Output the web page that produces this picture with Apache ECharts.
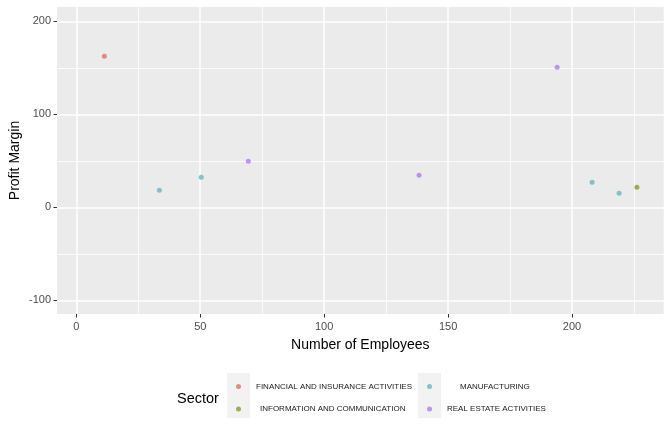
<!DOCTYPE html>
<html>
<head>
<meta charset="utf-8">
<script src="https://cdn.jsdelivr.net/npm/echarts@6/dist/echarts.min.js"></script>
<style>html,body{margin:0;padding:0;background:#fff}#c{width:672px;height:434px}</style>
</head>
<body>
<div id="c"></div>
<script>
// ---- data ----
const sectors = ["FINANCIAL AND INSURANCE ACTIVITIES", "INFORMATION AND COMMUNICATION", "MANUFACTURING", "REAL ESTATE ACTIVITIES"];
const colors = ["#D9736A", "#82A02A", "#66B6BF", "#AD7CF5"];
const financeEmployees = [11.3];
const financeMargin = [162.4];
const infoEmployees = [226.2];
const infoMargin = [21.5];
const manufEmployees = [33.5, 50.4, 208.1, 219.0];
const manufMargin = [18.3, 32.3, 26.9, 15.1];
const realEstateEmployees = [69.4, 138.3, 194.0];
const realEstateMargin = [49.5, 34.4, 150.5];
const xTicks = [0, 50, 100, 150, 200];
const xMinor = [25, 75, 125, 175, 225];
const yTicks = [-100, 0, 100, 200];
const yMinor = [-50, 50, 150];

const zip = (a, b) => a.map((v, i) => [v, b[i]]);
const seriesData = [
  zip(financeEmployees, financeMargin),
  zip(infoEmployees, infoMargin),
  zip(manufEmployees, manufMargin),
  zip(realEstateEmployees, realEstateMargin)
];

const FONT = "Liberation Sans, Arial, sans-serif";
const xMin = -7.8, xMax = 237, yMin = -114.7, yMax = 215.4;

const chart = echarts.init(document.getElementById('c'), null, {renderer: 'canvas'});

const hiddenParts = {
  axisLine: {show: false, onZero: false},
  axisLabel: {show: false}
};

const option = {
  backgroundColor: '#fff',
  animation: false,
  grid: {left: 57, right: 8.3, top: 7, bottom: 120, show: true, backgroundColor: '#EBEBEB', borderWidth: 0,
         containLabel: false, outerBoundsMode: 'none'},
  xAxis: [
    {
      type: 'value', min: xMin, max: xMax, position: 'bottom',
      name: 'Number of Employees', nameLocation: 'middle', nameGap: 24,
      nameTextStyle: {fontFamily: FONT, fontSize: 14, color: '#000'},
      axisLine: {show: false, onZero: false},
      axisTick: {show: true, length: 3.5, customValues: xTicks, lineStyle: {color: '#333', width: 1}},
      axisLabel: {customValues: xTicks, fontFamily: FONT, fontSize: 11, color: '#4D4D4D', margin: 7},
      splitLine: {show: true, lineStyle: {color: '#fff', width: 1.5}},
      z: 2
    },
    Object.assign({
      type: 'value', min: xMin, max: xMax, position: 'bottom',
      axisTick: {show: false, customValues: xMinor},
      splitLine: {show: true, lineStyle: {color: '#fff', width: 0.8}},
      z: 1
    }, hiddenParts)
  ],
  yAxis: [
    {
      type: 'value', min: yMin, max: yMax, position: 'left',
      name: 'Profit Margin', nameLocation: 'middle', nameGap: 35, nameMoveOverlap: false,
      nameTextStyle: {fontFamily: FONT, fontSize: 14, color: '#000'},
      axisLine: {show: false, onZero: false},
      axisTick: {show: true, length: 3.5, customValues: yTicks, lineStyle: {color: '#333', width: 1}},
      axisLabel: {customValues: yTicks, fontFamily: FONT, fontSize: 11, color: '#4D4D4D', margin: 6},
      splitLine: {show: true, lineStyle: {color: '#fff', width: 1.5}},
      z: 2
    },
    Object.assign({
      type: 'value', min: yMin, max: yMax, position: 'left',
      axisTick: {show: false, customValues: yMinor},
      splitLine: {show: true, lineStyle: {color: '#fff', width: 0.8}},
      z: 1
    }, hiddenParts)
  ],
  legend: [
    {left: 236, top: 382.5, padding: 0, itemWidth: 5, itemHeight: 5, data: [{name: sectors[0], icon: 'circle'}],
     textStyle: {fontFamily: FONT, fontSize: 8, color: '#1a1a1a', padding: [0, 0, 0, 10]}},
    {left: 236, top: 405, padding: 0, itemWidth: 5, itemHeight: 5, data: [{name: sectors[1], icon: 'circle'}],
     textStyle: {fontFamily: FONT, fontSize: 8, color: '#1a1a1a', padding: [0, 0, 0, 14]}},
    {left: 427, top: 382.5, padding: 0, itemWidth: 5, itemHeight: 5, data: [{name: sectors[2], icon: 'circle'}],
     textStyle: {fontFamily: FONT, fontSize: 8, color: '#1a1a1a', padding: [0, 0, 0, 23]}},
    {left: 427, top: 405, padding: 0, itemWidth: 5, itemHeight: 5, data: [{name: sectors[3], icon: 'circle'}],
     textStyle: {fontFamily: FONT, fontSize: 8, color: '#1a1a1a', padding: [0, 0, 0, 10]}}
  ],
  graphic: [
    {type: 'text', left: 177, top: 391, style: {text: 'Sector', fontFamily: FONT, fontSize: 14.5, fill: '#000'}},
    {type: 'rect', left: 227, top: 373, z: -1, shape: {width: 23, height: 45}, style: {fill: '#F2F2F2'}},
    {type: 'rect', left: 418, top: 373, z: -1, shape: {width: 23, height: 45}, style: {fill: '#F2F2F2'}}
  ],
  series: sectors.map((s, i) => ({
    name: s, type: 'scatter', xAxisIndex: 0, yAxisIndex: 0,
    symbol: 'circle', symbolSize: 5,
    itemStyle: {color: colors[i]},
    data: seriesData[i], z: 5
  }))
};
chart.setOption(option);
</script>
</body>
</html>
